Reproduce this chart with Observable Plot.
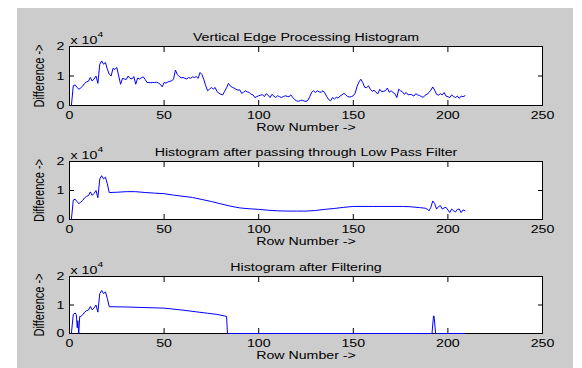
<!DOCTYPE html>
<html><head><meta charset="utf-8">
<script src="https://cdn.jsdelivr.net/npm/d3@7"></script>
<script src="https://cdn.jsdelivr.net/npm/@observablehq/plot@0.6"></script>
<style>
body{margin:0;background:#fff;}
#fig{position:relative;width:582px;height:368px;overflow:hidden;}
#bg{position:absolute;left:17px;top:8px;width:556px;height:360px;background:#cccccc;}
.panel{position:absolute;left:0;}
</style></head><body>
<div id="fig"><div id="bg"></div></div>
<script>
// ---- text ----
const titles = ["Vertical Edge Processing Histogram", "Histogram after passing through Low Pass Filter", "Histogram after Filtering"];
const xLabel = "Row Number ->";
const yLabel = "Difference ->";
const xTicks = [0, 50, 100, 150, 200, 250];
const yTicks = [0, 1, 2]; // x 10^4

// ---- data (Difference, in units of 10^4) ----
const rawRows = d3.range(1, 210);
const rawValues = [
 0.00,0.67,0.70,0.61,0.55,0.60,0.66,0.75,0.80,0.82,
 0.95,0.83,0.90,1.00,0.75,1.40,1.51,1.40,1.46,1.23,
 1.06,1.00,1.26,1.22,1.29,1.00,0.72,0.92,0.90,0.88,
 1.00,0.92,0.90,0.98,0.72,0.93,0.90,0.94,0.97,0.88,
 0.78,0.78,0.77,0.78,0.78,0.79,0.76,0.72,0.63,0.78,
 0.76,0.80,0.82,0.83,0.90,1.20,1.05,0.98,0.94,0.95,
 0.92,0.90,0.95,0.92,0.97,0.95,0.98,0.92,1.12,1.05,
 0.88,0.67,0.50,0.55,0.61,0.56,0.61,0.47,0.42,0.38,
 0.36,0.48,0.60,0.75,0.66,0.62,0.59,0.55,0.52,0.53,
 0.41,0.45,0.50,0.46,0.44,0.38,0.36,0.27,0.30,0.33,
 0.35,0.37,0.30,0.40,0.35,0.27,0.38,0.32,0.27,0.33,
 0.30,0.27,0.30,0.33,0.31,0.30,0.36,0.27,0.20,0.16,
 0.14,0.17,0.18,0.15,0.14,0.18,0.30,0.45,0.50,0.44,
 0.50,0.46,0.45,0.50,0.42,0.30,0.20,0.16,0.27,0.22,
 0.28,0.25,0.32,0.36,0.41,0.37,0.30,0.29,0.30,0.33,
 0.42,0.65,0.80,0.89,0.78,0.62,0.60,0.67,0.55,0.48,
 0.52,0.44,0.40,0.55,0.47,0.48,0.50,0.59,0.45,0.50,
 0.44,0.40,0.27,0.55,0.50,0.46,0.38,0.44,0.36,0.38,
 0.36,0.32,0.40,0.36,0.34,0.30,0.28,0.35,0.38,0.44,
 0.52,0.63,0.52,0.38,0.35,0.40,0.36,0.44,0.32,0.30,
 0.27,0.36,0.30,0.27,0.32,0.24,0.32,0.30,0.33
];
const lowPassRows = [
 1,2,3,4,5,6,7,8,9,10,11,12,13,14,15,16,17,18,19,20,
 21,25,30,35,40,45,50,55,60,65,70,75,80,85,90,95,100,105,110,115,
 120,125,130,135,140,145,150,160,170,176,180,185,188,189,190,191,192,193,194,195,
 196,197,198,199,200,201,202,203,204,205,206,207,208,209
];
const lowPassValues = [
 0.00,0.67,0.70,0.61,0.55,0.60,0.66,0.75,0.80,0.82,0.95,0.83,0.90,1.00,0.75,1.40,1.51,1.40,1.46,1.23,
 0.93,0.94,0.96,0.96,0.93,0.91,0.89,0.84,0.80,0.76,0.69,0.62,0.54,0.46,0.40,0.37,0.35,0.32,0.30,0.29,
 0.29,0.29,0.31,0.35,0.38,0.42,0.45,0.45,0.45,0.45,0.44,0.41,0.39,0.36,0.30,0.42,0.64,0.55,0.36,0.44,
 0.48,0.36,0.40,0.42,0.33,0.24,0.36,0.30,0.26,0.35,0.36,0.24,0.33,0.30
];
const filteredRows = [
 1,2,3,3.6,4.1,4.4,4.9,5.4,6,7,8,9,10,11,12,13,14,15,16,17,18,19,20,
 21,30,40,50,60,67,73,78,83,83.5,100,150,191.6,192.4,192.7,193.5,209
];
const filteredValues = [
 0.00,0.67,0.72,0.66,0.20,0.45,0.00,0.60,0.60,0.66,0.75,0.80,0.82,0.95,0.83,0.90,1.00,0.75,1.40,1.51,1.40,1.46,1.23,
 0.94,0.93,0.91,0.89,0.82,0.76,0.71,0.67,0.60,0.00,0.00,0.00,0.00,0.62,0.60,0.00,0.00
];

const series = [
  {rows: rawRows, values: rawValues},
  {rows: lowPassRows, values: lowPassValues},
  {rows: filteredRows, values: filteredValues}
];
const layout = [
  {top: 0, height: 124, marginTop: 46, marginBottom: 19},
  {top: 124, height: 116, marginTop: 37, marginBottom: 21},
  {top: 240, height: 128, marginTop: 36, marginBottom: 35}
];
const STRETCH = 1.29; // the reference's text is wider than it is tall
const FONT = 11;

function toPx(v, fs) {
  if (v == null) return 0;
  const n = parseFloat(v);
  if (!isFinite(n)) return 0;
  return String(v).trim().endsWith("em") ? n * fs : n;
}

const fig = document.getElementById("fig");
series.forEach((s, k) => {
  const L = layout[k];
  const data = s.rows.map((r, i) => ({row: r, value: s.values[i]}));
  const svg = Plot.plot({
    width: 582, height: L.height,
    marginTop: L.marginTop, marginBottom: L.marginBottom, marginLeft: 69, marginRight: 40,
    style: `background:transparent;font-family:'Liberation Sans',Arial,sans-serif;font-size:${FONT}px;color:#000;overflow:visible;`,
    x: {domain: [0, 250]},
    y: {domain: [0, 2]},
    marks: [
      Plot.frame({fill: "white", stroke: null}),
      Plot.frame({stroke: "black"}),
      Plot.axisX(xTicks, {anchor: "bottom", tickSize: 0, tickPadding: 6, label: null}),
      Plot.axisX(xTicks, {anchor: "bottom", tickSize: -5, tickFormat: () => "", label: null}),
      Plot.axisX(xTicks, {anchor: "top", tickSize: -5, tickFormat: () => "", label: null}),
      Plot.axisY(yTicks, {anchor: "left", tickSize: 0, tickPadding: 5, label: null}),
      Plot.axisY(yTicks, {anchor: "left", tickSize: -5, tickFormat: () => "", label: null}),
      Plot.axisY(yTicks, {anchor: "right", tickSize: -5, tickFormat: () => "", label: null}),
      Plot.text([titles[k]], {frameAnchor: "top", dy: -13.5, fill: "black"}),
      Plot.text(["x 10"], {frameAnchor: "top-left", dx: 1, dy: -10, textAnchor: "start", fill: "black"}),
      Plot.text(["4"], {frameAnchor: "top-left", dx: 28, dy: -15.5, textAnchor: "start", fontSize: 8, fill: "black"}),
      Plot.text([yLabel], {frameAnchor: "left", dx: -29, rotate: -90, textAnchor: "middle", fill: "black"}),
      Plot.text([xLabel], {frameAnchor: "bottom", dy: 25, fill: "black"}),
      Plot.line(data, {x: "row", y: "value", stroke: "#0000ff", strokeWidth: 1})
    ]
  });
  // widen the glyphs about each text's own anchor, as in the reference
  svg.querySelectorAll("text").forEach(t => {
    const tr = t.getAttribute("transform") || "";
    const fs = toPx(t.getAttribute("font-size"), FONT) || FONT;
    if (tr.includes("rotate")) {
      const y = toPx(t.getAttribute("y"), fs);
      t.setAttribute("transform", `${tr} translate(0,${y}) scale(1,${STRETCH}) translate(0,${-y})`);
    } else {
      const x = toPx(t.getAttribute("x"), fs);
      t.setAttribute("transform", `${tr} translate(${x},0) scale(${STRETCH},1) translate(${-x},0)`);
    }
  });
  svg.classList.add("panel");
  svg.style.top = L.top + "px";
  fig.appendChild(svg);
});
</script>
</body></html>
